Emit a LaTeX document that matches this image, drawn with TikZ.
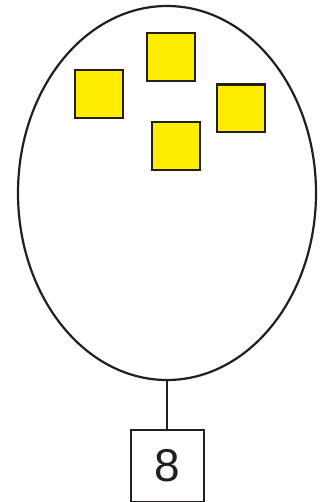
\documentclass[tikz,border=0pt]{standalone}
\usepackage{fontspec}
\setmainfont{Liberation Sans}
\usetikzlibrary{shapes.geometric}
\definecolor{yel}{RGB}{255,237,0}
\definecolor{ink}{RGB}{35,31,32}
\tikzset{
  sq/.style={draw=ink, fill=yel, line width=2.4pt, minimum size=47.6pt, inner sep=0pt, rectangle},
  oval/.style={draw=ink, line width=2.2pt, ellipse, minimum width=298pt, minimum height=374pt, inner sep=0pt},
  numbox/.style={draw=ink, line width=2pt, minimum width=73pt, minimum height=72pt, inner sep=0pt, font=\fontsize{46}{46}\selectfont, text=ink},
  link/.style={draw=ink, line width=2pt}
}
\begin{document}
\begin{tikzpicture}[x=1pt,y=-1pt]
\useasboundingbox (0,0) rectangle (321,502);
\node[oval] (egg) at (167,193) {};
\node[sq] (s1) at (99,94) {};
\node[sq] (s2) at (171,57) {};
\node[sq] (s3) at (241,108.5) {};
\node[sq] (s4) at (176,146) {};
\node[numbox] (n) at (167,466) {8};
\draw[link] (egg.south) -- (n.north);
\end{tikzpicture}
\end{document}
